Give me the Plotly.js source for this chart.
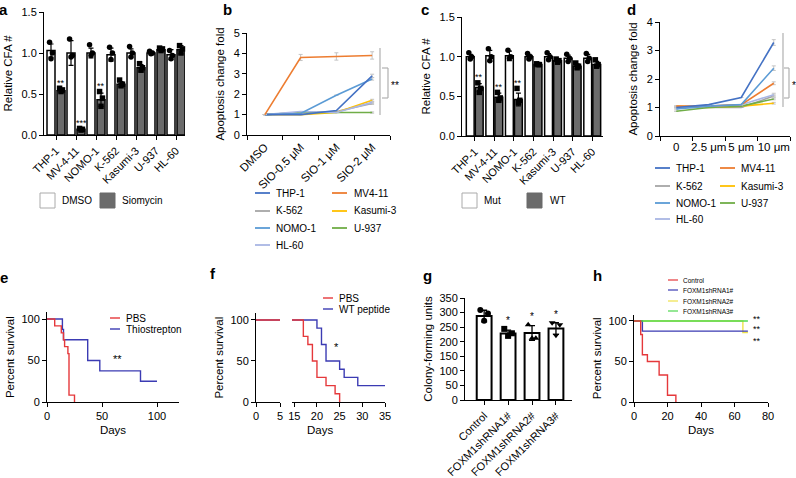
<!DOCTYPE html>
<html><head><meta charset="utf-8">
<script src="https://cdn.plot.ly/plotly-3.0.1.min.js"></script>
<style>html,body{margin:0;padding:0;background:#fff}#chart{width:796px;height:478px}</style>
</head><body><div id="chart"></div>
<script>
// ---------------- DATA ----------------
// a
const cellLinesA = ['THP-1','MV-4-11','NOMO-1','K-562','Kasumi-3','U-937','HL-60'];
const dmsoMean = [1.03,1.00,1.00,0.98,1.00,1.00,0.98];
const dmsoErr  = [0.08,0.15,0.06,0.08,0.05,0.02,0.06];
const dmsoDots = [[1.13,1.00,0.93],[1.17,0.97,0.95],[1.10,1.00,0.97],[1.07,1.00,0.92],[1.08,1.00,0.95],[1.02,1.00,0.99],[1.03,0.97,0.93]];
const siomycinMean = [0.54,0.07,0.43,0.62,0.82,1.04,1.04];
const siomycinErr  = [0.02,0.01,0.08,0.03,0.04,0.02,0.05];
const siomycinDots = [[0.57,0.55,0.53],[0.08,0.07,0.06],[0.53,0.45,0.35],[0.67,0.62,0.60],[0.87,0.82,0.79],[1.06,1.05,1.03],[1.09,1.05,1.00]];
const sigA = ['**','***','**','','','',''];
// b
const doseB = ['DMSO','SIO-0.5 μM','SIO-1 μM','SIO-2 μM'];
const seriesNames = ['THP-1','MV4-11','K-562','Kasumi-3','NOMO-1','U-937','HL-60'];
const bTHP1   = [1.0,1.0,1.2,2.9];
const bMV411  = [1.0,3.8,3.85,3.9];
const bK562   = [1.0,1.1,1.15,1.55];
const bKasumi = [1.0,1.0,1.1,1.7];
const bNOMO1  = [1.0,1.05,1.95,2.75];
const bU937   = [1.0,1.1,1.1,1.1];
const bHL60   = [1.0,1.15,1.1,1.6];
const bErr = [[0,0,0,0.08],[0,0.15,0.18,0.18],[0,0,0,0.05],[0,0,0,0.05],[0,0,0,0.06],[0,0,0,0.03],[0,0,0,0.05]];
// c
const mutMean = [1.00,1.01,1.01,1.00,1.00,0.98,0.98];
const mutErr  = [0.03,0.07,0.06,0.03,0.04,0.04,0.05];
const mutDots = [[1.05,1.00,0.97],[1.10,1.00,0.95],[1.08,1.00,0.98],[1.04,1.00,0.97],[1.05,1.00,0.96],[1.03,0.98,0.94],[1.04,0.98,0.94]];
const wtMean = [0.61,0.49,0.46,0.90,0.95,0.88,0.90];
const wtErr  = [0.05,0.05,0.08,0.01,0.02,0.03,0.04];
const wtDots = [[0.67,0.60,0.55],[0.55,0.48,0.45],[0.60,0.45,0.42],[0.91,0.90,0.90],[0.97,0.95,0.93],[0.92,0.88,0.86],[0.96,0.90,0.88]];
const sigC = ['**','**','**','','','',''];
// d
const doseD = ['0','2.5 μm','5 μm','10 μm'];
const dTHP1   = [1.0,1.1,1.35,3.28];
const dMV411  = [1.05,1.05,1.1,1.85];
const dK562   = [1.0,1.0,1.0,1.4];
const dKasumi = [1.05,1.0,1.05,1.15];
const dNOMO1  = [0.95,1.05,1.1,2.38];
const dU937   = [0.87,1.0,1.05,1.3];
const dHL60   = [1.0,1.05,1.1,1.45];
const dErr = [[0,0,0,0.1],[0,0,0,0.05],[0,0,0,0.04],[0,0,0,0.03],[0,0,0,0.08],[0,0,0,0.03],[0,0,0,0.05]];
// e
const pbsE_t = [0,7,13,15,16,19,20,25];
const pbsE_s = [100,91.7,83.3,75,66.7,58.3,8.3,0];
const thioE_t = [0,14,15,37,48,85,100];
const thioE_s = [100,87.5,75,50,37.5,25,25];
// f
const pbsF_t = [0,17,18,19,20,22,24,25];
const pbsF_s = [100,80,70,50,30,20,10,0];
const wtpF_t = [0,20,21,22,25,26,29,35];
const wtpF_s = [100,90,70,50,40,30,20,20];
// g
const groupsG = ['Control','FOXM1shRNA1#','FOXM1shRNA2#','FOXM1shRNA3#'];
const cfuMean = [288,228,230,245];
const cfuErr  = [20,12,25,20];
const cfuDots = [[309,297,272],[244,229,220],[258,212,212],[265,258,222]];
const sigG = ['','*','*','*'];
// h
const ctrlH_t = [0,4,5,8,15,20,25];
const ctrlH_s = [100,83.3,58.3,50,33.3,8.3,0];
const sh1H_t = [0,5,68];
const sh1H_s = [100,87.5,87.5];
const sh2H_t = [0,65,68];
const sh2H_s = [100,85.7,85.7];
const sh3H_t = [0,68];
const sh3H_s = [100,100];
const namesH = ['Control','FOXM1shRNA1#','FOXM1shRNA2#','FOXM1shRNA3#'];

// ---------------- STYLE / HELPERS ----------------
const W = 796, H = 478;
const FONT = 'Liberation Sans, Arial, Helvetica, sans-serif';
const lineColors = ['#4472c4','#ed7d31','#a5a5a5','#ffc000','#5b9bd5','#70ad47','#a9b6e4'];
const kmColors = {red:'#e5383b', blue:'#3b3bb3', yellow:'#eee24a', green:'#4fd84f'};
const dx = (a,b) => [a/W, b/W];
const dy = (top,bottom) => [1-bottom/H, 1-top/H];
const PX = x => x/W, PY = y => 1-y/H;

const axBase = {showline:true, linecolor:'#000', linewidth:1, ticks:'outside', ticklen:4, tickwidth:1, tickcolor:'#000',
  showgrid:false, zeroline:false, fixedrange:true, tickfont:{family:FONT, size:11, color:'#000'}};
const ax = o => Object.assign({}, axBase, o);
const ttl = (text, standoff, size) => ({text, standoff, font:{family:FONT, size:size||11.5, color:'#000'}});

const traces = [];
const jit = [-0.09, 0.09, 0];
function barPair(meanA, errA, dotsA, meanB, errB, dotsB, xa, ya, offs, w){
  const xs = meanA.map((_,i)=>i);
  traces.push({type:'bar', x: xs.map(i=>i-offs), y: meanA, width:w, xaxis:xa, yaxis:ya,
    marker:{color:'#ffffff', line:{color:'#000', width:1.5}},
    error_y:{type:'data', array:errA, color:'#000', thickness:1.2, width:2.5}});
  traces.push({type:'bar', x: xs.map(i=>i+offs), y: meanB, width:w, xaxis:xa, yaxis:ya,
    marker:{color:'#6b6b6b', line:{color:'#000', width:1.5}},
    error_y:{type:'data', array:errB, color:'#000', thickness:1.2, width:2.5}});
  [[dotsA,-offs,'circle'],[dotsB,offs,'square']].forEach(([dots,o,sym])=>{
    const X=[],Y=[];
    dots.forEach((arr,i)=>arr.forEach((v,k)=>{X.push(i+o+jit[k]*0.8); Y.push(v);}));
    traces.push({type:'scatter', mode:'markers', x:X, y:Y, xaxis:xa, yaxis:ya, cliponaxis:false,
      marker:{symbol:sym, size:5.5, color:'#000'}});
  });
}
barPair(dmsoMean, dmsoErr, dmsoDots, siomycinMean, siomycinErr, siomycinDots, 'x', 'y', 0.25, 0.4);
barPair(mutMean, mutErr, mutDots, wtMean, wtErr, wtDots, 'x3', 'y3', 0.23, 0.4);

// b & d lines
const bSeries = [bTHP1,bMV411,bK562,bKasumi,bNOMO1,bU937,bHL60];
const dSeries = [dTHP1,dMV411,dK562,dKasumi,dNOMO1,dU937,dHL60];
[2,3,5,6,4,0,1].forEach(i=>{
  traces.push({type:'scatter', mode:'lines', x:doseB, y:bSeries[i], xaxis:'x2', yaxis:'y2', name:seriesNames[i],
    line:{color:lineColors[i], width:1.6}, error_y:{type:'data', array:bErr[i], color:'#c4c4c4', thickness:1, width:2}});
});
[2,3,5,6,1,4,0].forEach(i=>{
  traces.push({type:'scatter', mode:'lines', x:doseD, y:dSeries[i], xaxis:'x4', yaxis:'y4', name:seriesNames[i],
    line:{color:lineColors[i], width:1.6}, error_y:{type:'data', array:dErr[i], color:'#c4c4c4', thickness:1, width:2}});
});

// KM curves
function km(t, s, color, xa, ya){
  traces.push({type:'scatter', mode:'lines', x:t, y:s, xaxis:xa, yaxis:ya, line:{color, width:1.4, shape:'hv'}});
}
km(thioE_t, thioE_s, kmColors.blue, 'x5', 'y5');
km(pbsE_t, pbsE_s, kmColors.red, 'x5', 'y5');
['x6','x7'].forEach(xa=>{
  km(wtpF_t, wtpF_s, kmColors.blue, xa, 'y6');
  km(pbsF_t, pbsF_s, kmColors.red, xa, 'y6');
});
km(sh2H_t, sh2H_s, kmColors.yellow, 'x9', 'y8');
km(sh1H_t, sh1H_s, kmColors.blue, 'x9', 'y8');
km(sh3H_t, sh3H_s, kmColors.green, 'x9', 'y8');
km(ctrlH_t, ctrlH_s, kmColors.red, 'x9', 'y8');

// g bars
traces.push({type:'bar', x:groupsG.map((_,i)=>i), y:cfuMean, width:0.62, xaxis:'x8', yaxis:'y7',
  marker:{color:'#fff', line:{color:'#000', width:2}},
  error_y:{type:'data', array:cfuErr, color:'#000', thickness:1.3, width:3}});
const gSym = ['circle','square','triangle-up','triangle-down'];
const jitG = [-0.16,0.16,0];
cfuDots.forEach((arr,i)=>{
  traces.push({type:'scatter', mode:'markers', x:arr.map((_,k)=>i+jitG[k]), y:arr, xaxis:'x8', yaxis:'y7',
    marker:{symbol:gSym[i], size:6, color:'#000'}, cliponaxis:false});
});

// ---------------- ANNOTATIONS / SHAPES ----------------
const annotations = [], shapes = [];
const txt = (text, x, y, o) => annotations.push(Object.assign({text, x:PX(x), y:PY(y), xref:'paper', yref:'paper',
  showarrow:false, xanchor:'left', yanchor:'middle', font:{family:FONT, size:10, color:'#000'}}, o||{}));
const pline = (x0,y0,x1,y1,color,width) => shapes.push({type:'line', xref:'paper', yref:'paper',
  x0:PX(x0), y0:PY(y0), x1:PX(x1), y1:PY(y1), line:{color, width:width||1}});
const prect = (x0,y0,x1,y1,fill,lc) => shapes.push({type:'rect', xref:'paper', yref:'paper',
  x0:PX(x0), y0:PY(y0), x1:PX(x1), y1:PY(y1), fillcolor:fill, line:{color:lc, width:1}});

// panel letters
[['a',3,9],['b',227,9],['c',425,9],['d',631,9],['e',4,277],['f',213,273],['g',427,275],['h',597,275]].forEach(([l,x,y])=>
  txt('<b>'+l+'</b>', x, y, {xanchor:'center', font:{family:FONT, size:15, color:'#000'}}));

// significance stars
sigA.forEach((s,i)=>{ if(s) annotations.push({text:s, x:i+0.25, y:Math.max(...siomycinDots[i])+0.07, xref:'x', yref:'y',
  showarrow:false, yanchor:'middle', font:{family:FONT,size:9,color:'#000'}}); });
sigC.forEach((s,i)=>{ if(s) annotations.push({text:s, x:i+0.23, y:Math.max(...wtDots[i])+0.07, xref:'x3', yref:'y3',
  showarrow:false, yanchor:'middle', font:{family:FONT,size:9,color:'#000'}}); });
sigG.forEach((s,i)=>{ if(s) annotations.push({text:s, x:i, y:Math.max(cfuMean[i]+cfuErr[i], ...cfuDots[i])+28, xref:'x8', yref:'y7',
  showarrow:false, yanchor:'middle', font:{family:FONT,size:10,color:'#000'}}); });
annotations.push({text:'**', x:64, y:52, xref:'x5', yref:'y5', showarrow:false, font:{family:FONT,size:11,color:'#000'}});
annotations.push({text:'*', x:24.2, y:67, xref:'x7', yref:'y6', showarrow:false, font:{family:FONT,size:11,color:'#000'}});
annotations.push({text:'**', x:73.5, y:103, xref:'x9', yref:'y8', showarrow:false, font:{family:FONT,size:9,color:'#000'}});
annotations.push({text:'**<br>**', x:73.5, y:83, xref:'x9', yref:'y8', showarrow:false,
  font:{family:FONT,size:9,color:'#000'}});

// brackets b, d
pline(380,48,380,115,'#b0b0b0',1.2);
pline(382,68,388,68,'#b0b0b0',1.2); pline(388,68,388,98,'#b0b0b0',1.2); pline(382,98,388,98,'#b0b0b0',1.2);
txt('**', 389, 86, {font:{family:FONT,size:10,color:'#000'}});
pline(783,33,783,107,'#b0b0b0',1.2);
pline(784,68,789,68,'#b0b0b0',1.2); pline(789,68,789,98,'#b0b0b0',1.2); pline(784,98,789,98,'#b0b0b0',1.2);
txt('*', 790, 86, {font:{family:FONT,size:10,color:'#000'}});

// legends a, c
prect(40,193,55,208,'#ffffff','#aaaaaa'); txt('DMSO', 60, 201);
prect(100,193,115,208,'#6b6b6b','#6b6b6b'); txt('Siomycin', 120, 201);
prect(462,193,477,208,'#ffffff','#aaaaaa'); txt('Mut', 482, 201);
prect(527,193,542,208,'#6b6b6b','#6b6b6b'); txt('WT', 548, 201);

// legends b, d (two columns)
const legCols = [[0,2,4,6],[1,3,5]];
function lineLegend(rows, c1, c2){
  legCols.forEach((col,ci)=>col.forEach((si,ri)=>{
    const [lx0,lx1,tx] = ci===0 ? c1 : c2;
    const y = rows[ri];
    pline(lx0,y,lx1,y,lineColors[si],1.8);
    txt(seriesNames[si], tx, y);
  }));
}
lineLegend([193,211,228,245],[255,270,274],[332,347,352]);
lineLegend([168,186,203,219],[655,670,674],[720,735,739]);

// KM legends
pline(110,318,120,318,kmColors.red,1.4); txt('PBS',124,318);
pline(110,329,120,329,kmColors.blue,1.4); txt('Thiostrepton',124,329);
pline(323,298,333,298,kmColors.red,1.4); txt('PBS',337,298);
pline(323,309,333,309,kmColors.blue,1.4); txt('WT peptide',337,309);
[kmColors.red,kmColors.blue,kmColors.yellow,kmColors.green].forEach((c,i)=>{
  const y = [280,290,301,311][i];
  pline(668,y,678,y,c,1.2); txt(namesH[i],681,y,{font:{family:FONT,size:6.5,color:'#000'}});
});
txt('Days', 320, 430, {xanchor:'center', font:{family:FONT,size:11.5,color:'#000'}});

const layout = {
  width:W, height:H, margin:{l:0,r:0,t:0,b:0}, paper_bgcolor:'#fff', plot_bgcolor:'rgba(0,0,0,0)',
  showlegend:false, barmode:'overlay', font:{family:FONT, color:'#000'},
  xaxis: ax({domain:dx(44,185), range:[-0.6,6.45], tickvals:cellLinesA.map((_,i)=>i), ticktext:cellLinesA, tickangle:-45, anchor:'y'}),
  yaxis: ax({domain:dy(12,135), range:[0,1.5], dtick:0.5, tickformat:'.1f', anchor:'x', title:ttl('Relative CFA #',6)}),
  xaxis2: ax({type:'category', domain:dx(247,390), range:[-0.5,3.5], tickson:'boundaries', tickangle:-45, anchor:'y2', tickfont:{family:FONT,size:11.5,color:'#000'}}),
  yaxis2: ax({domain:dy(33,135), range:[0,5], dtick:1, anchor:'x2', title:ttl('Apoptosis change fold',6)}),
  xaxis3: ax({domain:dx(462,603), range:[-0.65,6.55], tickvals:cellLinesA.map((_,i)=>i), ticktext:cellLinesA, tickangle:-45, anchor:'y3'}),
  yaxis3: ax({domain:dy(17,136), range:[0,1.5], dtick:0.5, tickformat:'.1f', anchor:'x3', title:ttl('Relative CFA #',6)}),
  xaxis4: ax({type:'category', domain:dx(660,790), range:[-0.5,3.5], tickson:'boundaries', tickangle:0, anchor:'y4', tickfont:{family:FONT,size:11.5,color:'#000'}}),
  yaxis4: ax({domain:dy(22,136), range:[0,4], dtick:1, anchor:'x4', title:ttl('Apoptosis change fold',6)}),
  xaxis5: ax({domain:dx(47,179), range:[0,120], tickvals:[0,50,100], anchor:'y5', title:ttl('Days',4)}),
  yaxis5: ax({domain:dy(312.4,402), range:[0,108], tickvals:[0,50,100], anchor:'x5', title:ttl('Percent survival',4)}),
  xaxis6: ax({domain:dx(256,280), range:[0,5], tickvals:[0,5], anchor:'y6'}),
  xaxis7: ax({domain:dx(292,385), range:[14.5,35], tickvals:[15,20,25,30,35], anchor:'y6'}),
  yaxis6: ax({domain:dy(313.4,402), range:[0,108], tickvals:[0,50,100], anchor:'x6', title:ttl('Percent survival',4)}),
  xaxis8: ax({domain:dx(465,572), range:[-0.8,3.67], tickvals:groupsG.map((_,i)=>i), ticktext:groupsG, tickangle:-45, anchor:'y7'}),
  yaxis7: ax({domain:dy(298,400), range:[0,350], dtick:50, anchor:'x8', title:ttl('Colony-forming units',4)}),
  xaxis9: ax({domain:dx(634,768), range:[0,80], dtick:20, anchor:'y8', title:ttl('Days',4)}),
  yaxis8: ax({domain:dy(314.5,402), range:[0,108], tickvals:[0,50,100], anchor:'x9', title:ttl('Percent survival',4)}),
  annotations, shapes
};
Plotly.newPlot('chart', traces, layout, {staticPlot:true, displayModeBar:false});
</script></body></html>
